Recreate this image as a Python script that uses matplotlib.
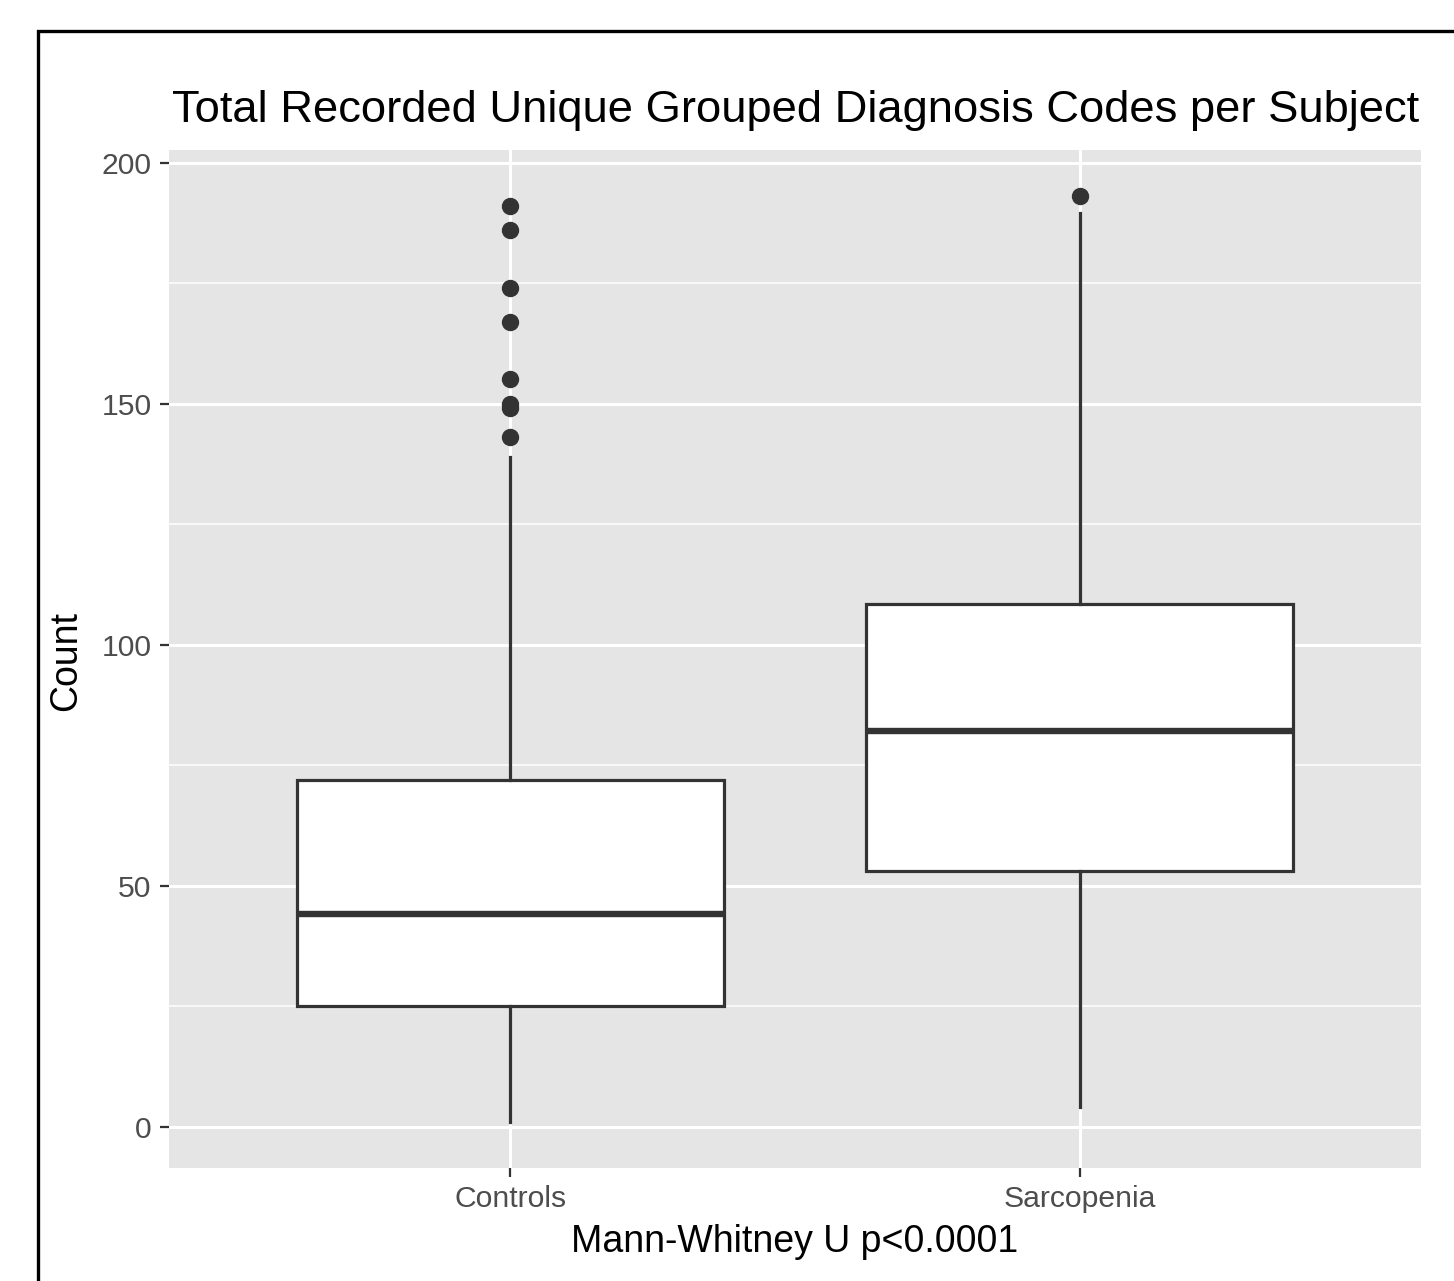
import matplotlib
matplotlib.use("Agg")
import matplotlib.pyplot as plt
from matplotlib.patches import Rectangle

plt.rcParams['font.family'] = ['Liberation Sans', 'DejaVu Sans']

# values
groups = ["Controls", "Sarcopenia"]
whislo = [1, 4]
q1 = [25, 53]
med = [44, 82]
q3 = [72, 108.5]
whishi = [139, 189.5]
fliers = [
    [191, 186, 174, 167, 155, 150, 149, 143],
    [193],
]
yticks = [0, 50, 100, 150, 200]
title = "Total Recorded Unique Grouped Diagnosis Codes per Subject"
xlab = "Mann-Whitney U p<0.0001"
ylab = "Count"

W, H = 1454, 1281
fig = plt.figure(figsize=(W / 100, H / 100), dpi=100)
ax = fig.add_axes([169 / W, 113 / H, (1421 - 169) / W, (1168 - 150) / H])

ax.set_facecolor("#E5E5E5")
for s in ax.spines.values():
    s.set_visible(False)

# grid (ggplot style)
ax.set_yticks(yticks)
ax.set_yticks([25, 75, 125, 175], minor=True)
ax.grid(which="major", color="white", linewidth=2.2)
ax.grid(which="minor", axis="y", color="white", linewidth=1.1)
ax.set_axisbelow(True)

stats = []
for i in range(len(groups)):
    stats.append(dict(label=groups[i], whislo=whislo[i], q1=q1[i], med=med[i],
                      q3=q3[i], whishi=whishi[i], fliers=fliers[i]))

ax.bxp(stats, positions=[1, 2], widths=0.75, patch_artist=True, showcaps=False,
       boxprops=dict(facecolor="white", edgecolor="#333333", linewidth=2.3),
       whiskerprops=dict(color="#333333", linewidth=2.3),
       medianprops=dict(color="#333333", linewidth=4.6, solid_capstyle="butt"),
       flierprops=dict(marker="o", markerfacecolor="#333333", markeredgecolor="#333333",
                       markersize=11.5, linestyle="none"))

ax.set_xlim(0.4, 2.6)
ax.set_ylim(-8.6, 202.6)
ax.set_xticks([1, 2])
ax.set_xticklabels(groups)
ax.tick_params(axis="both", which="major", length=6.5, width=1.6, color="#333333",
               labelcolor="#4D4D4D", labelsize=21.7)
ax.tick_params(axis="x", pad=5.5)
ax.tick_params(axis="y", pad=6)
ax.tick_params(axis="y", which="minor", length=0)

fig.text(795 / W, 1 - 1252 / H, xlab, fontsize=27, color="black",
         ha="center", va="baseline")
fig.text(84 / W, 1 - 661 / H, ylab, fontsize=27, color="black",
         ha="right", va="center", rotation=90)

fig.text(172 / W, 1 - 122 / H, title, fontsize=32.7, color="black",
         ha="left", va="baseline")

# outer frame around the figure
fig.patches.append(Rectangle((38 / W, -0.05), 1.2, 1 - 31 / H + 0.05, transform=fig.transFigure,
                             fill=False, edgecolor="black", linewidth=2.4))

fig.savefig("out.png", dpi=100)
